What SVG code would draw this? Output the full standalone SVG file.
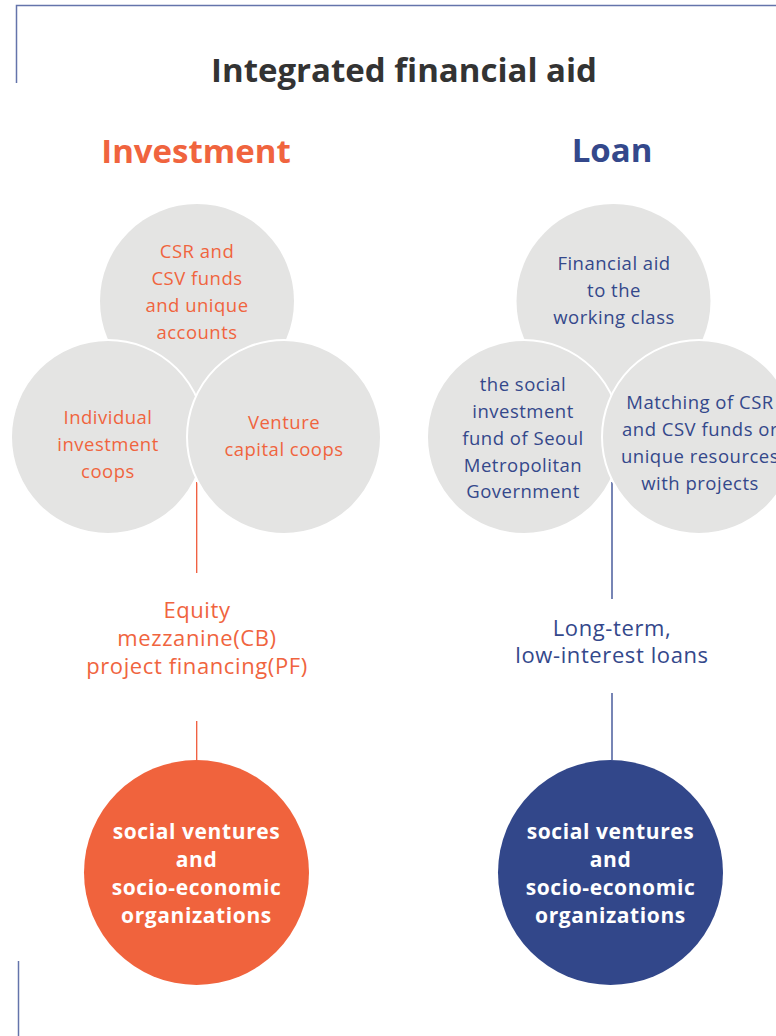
<svg xmlns="http://www.w3.org/2000/svg" width="776" height="1036" viewBox="0 0 776 1036">
<style>
text{font-family:"Open Sans","Liberation Sans",sans-serif;text-anchor:middle}
.title{font-size:33px;font-weight:700;fill:#333333}
.head{font-size:33px;font-weight:700}
.o{fill:#f0643e}
.b{fill:#34488b}
.bub{fill:#e4e4e3}
.bubs{fill:#e4e4e3;stroke:#ffffff;stroke-width:2}
.t{font-size:18.5px;letter-spacing:0.5px}
.lab{font-size:22px;letter-spacing:0.6px}
.w{font-size:21px;font-weight:700;fill:#ffffff;letter-spacing:0.6px}
.frame{stroke:#6474ab;stroke-width:1.5;fill:none}
.lo{stroke:#f05a3a;stroke-width:1.3}
.lb{stroke:#4a5c9c;stroke-width:1.5}
</style>
<g id="frame">
<polyline class="frame" points="16.5,83 16.5,5.5 776,5.5"/>
<line class="frame" x1="18.5" y1="961" x2="18.5" y2="1036"/>
</g>
<text class="title" x="404" y="82">Integrated financial aid</text>
<text class="head o" x="196" y="163">Investment</text>
<text class="head b" x="612" y="162">Loan</text>

<g id="connectors">
<line class="lo" x1="196.7" y1="482" x2="196.7" y2="573"/>
<line class="lo" x1="196.7" y1="721" x2="196.7" y2="760"/>
<line class="lb" x1="612" y1="482" x2="612" y2="599"/>
<line class="lb" x1="612" y1="693" x2="612" y2="760"/>
</g>

<g id="inv-csr">
<circle class="bub" cx="197" cy="301" r="97"/>
<text class="t o" x="197" y="258">CSR and</text>
<text class="t o" x="197" y="285">CSV funds</text>
<text class="t o" x="197" y="312">and unique</text>
<text class="t o" x="197" y="339">accounts</text>
</g>
<g id="inv-individual">
<circle class="bubs" cx="108" cy="437" r="97"/>
<text class="t o" x="108" y="424">Individual</text>
<text class="t o" x="108" y="451">investment</text>
<text class="t o" x="108" y="478">coops</text>
</g>
<g id="inv-venture">
<circle class="bubs" cx="284" cy="437" r="97"/>
<text class="t o" x="284" y="429">Venture</text>
<text class="t o" x="284" y="456">capital coops</text>
</g>

<g id="loan-working">
<circle class="bub" cx="613.5" cy="301" r="97"/>
<text class="t b" x="614" y="270">Financial aid</text>
<text class="t b" x="614" y="297">to the</text>
<text class="t b" x="614" y="324">working class</text>
</g>
<g id="loan-seoul">
<circle class="bubs" cx="524" cy="437" r="97"/>
<text class="t b" x="523" y="391">the social</text>
<text class="t b" x="523" y="418">investment</text>
<text class="t b" x="523" y="445">fund of Seoul</text>
<text class="t b" x="523" y="472">Metropolitan</text>
<text class="t b" x="523" y="498">Government</text>
</g>
<g id="loan-matching">
<circle class="bubs" cx="699" cy="437" r="97"/>
<text class="t b" x="700" y="409">Matching of CSR</text>
<text class="t b" x="700" y="436">and CSV funds or</text>
<text class="t b" x="700" y="463">unique resources</text>
<text class="t b" x="700" y="490">with projects</text>
</g>

<g id="inv-label">
<text class="lab o" x="197" y="618">Equity</text>
<text class="lab o" x="197" y="646">mezzanine(CB)</text>
<text class="lab o" x="197" y="674">project financing(PF)</text>
</g>
<g id="loan-label">
<text class="lab b" x="612" y="636">Long-term,</text>
<text class="lab b" x="612" y="663">low-interest loans</text>
</g>

<g id="inv-target">
<circle cx="196.5" cy="872.5" r="112.5" fill="#f0633d"/>
<text class="w" x="196.5" y="839">social ventures</text>
<text class="w" x="196.5" y="867">and</text>
<text class="w" x="196.5" y="895">socio-economic</text>
<text class="w" x="196.5" y="923">organizations</text>
</g>
<g id="loan-target">
<circle cx="610.5" cy="872.5" r="112.5" fill="#32478a"/>
<text class="w" x="610.5" y="839">social ventures</text>
<text class="w" x="610.5" y="867">and</text>
<text class="w" x="610.5" y="895">socio-economic</text>
<text class="w" x="610.5" y="923">organizations</text>
</g>
</svg>
